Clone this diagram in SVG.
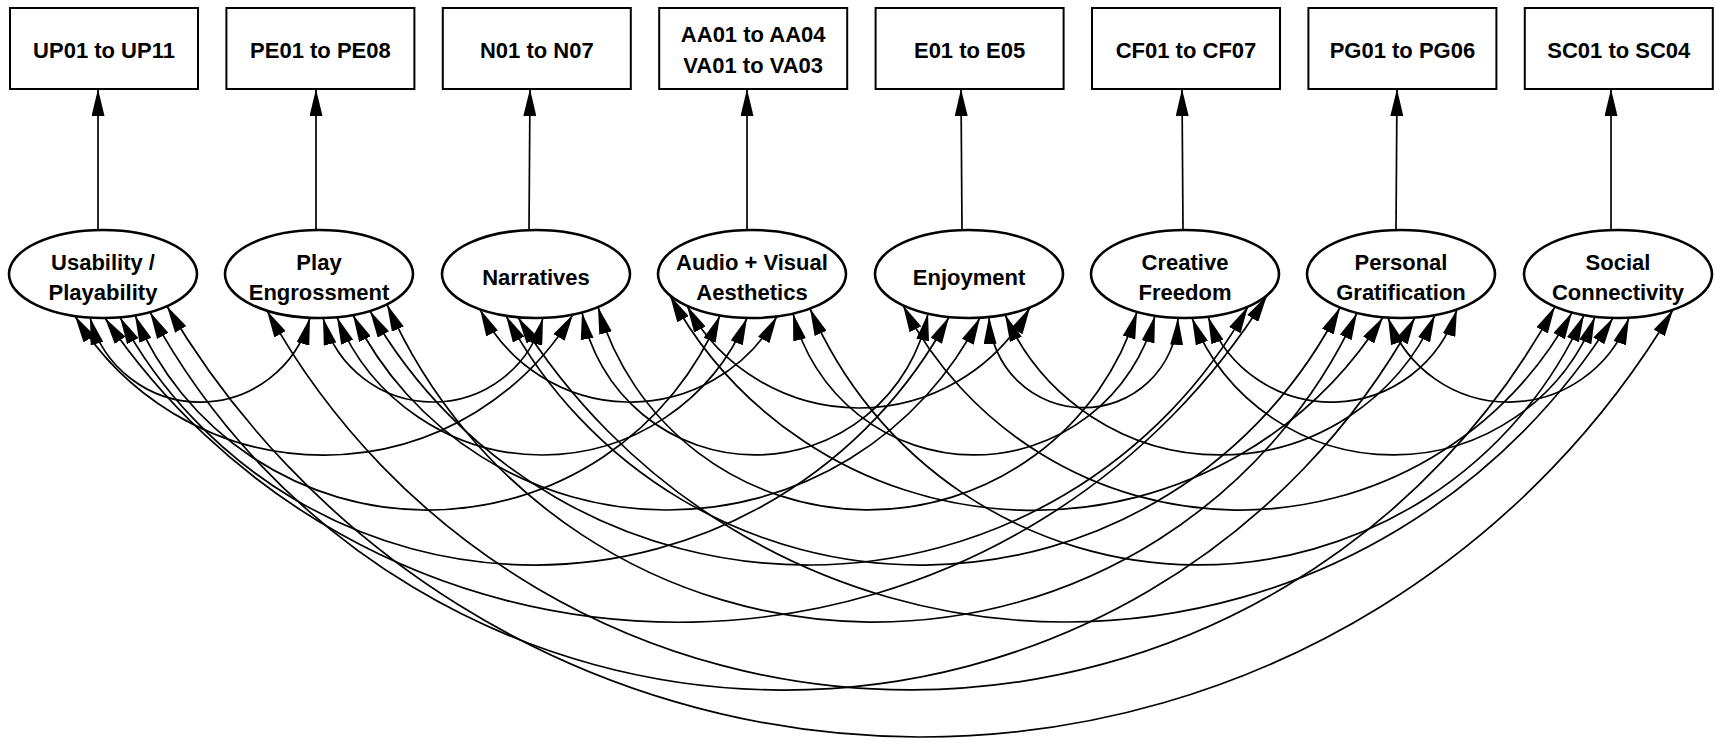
<svg xmlns="http://www.w3.org/2000/svg" width="1715" height="742" viewBox="0 0 1715 742">
<style>
.box{fill:#fff;stroke:#000;stroke-width:2}
.ell{fill:#fff;stroke:#000;stroke-width:2.6}
.t{font-family:"Liberation Sans",Arial,sans-serif;font-weight:bold;font-size:22px;fill:#000;text-anchor:middle}
.c{fill:none;stroke:#000;stroke-width:1.7;marker-start:url(#ah);marker-end:url(#ah)}
.v{fill:none;stroke:#000;stroke-width:1.7;marker-end:url(#ah)}
</style>
<defs>
<marker id="ah" viewBox="0 0 27 13" refX="27" refY="6.5" markerWidth="27" markerHeight="13" markerUnits="userSpaceOnUse" orient="auto-start-reverse">
<path d="M0,0 L27,6.5 L0,13 z" fill="#000"/>
</marker>
</defs>
<rect width="1715" height="742" fill="#fff"/>
<g id="connectors">
<path class="v" d="M98 230 L98 89"/>
<path class="v" d="M316 230 L316 89"/>
<path class="v" d="M529 230 L530 89"/>
<path class="v" d="M747 230 L747 89"/>
<path class="v" d="M962 230 L961 89"/>
<path class="v" d="M1183 230 L1182 89"/>
<path class="v" d="M1396 230 L1397 89"/>
<path class="v" d="M1611 230 L1611 89"/>
<path class="c" d="M90 317.6 A113.9 113.9 0 0 0 310 317.8"/>
<path class="c" d="M323 318 A114 114 0 0 0 543 317.9"/>
<path class="c" d="M480 309.3 A168.3 168.3 0 0 0 777 316.4"/>
<path class="c" d="M687 305.8 A195.8 195.8 0 0 0 1030 307.5"/>
<path class="c" d="M989 317 A94.6 94.6 0 0 0 1178 317.9"/>
<path class="c" d="M1208 316.7 A131.6 131.6 0 0 0 1457 309.3"/>
<path class="c" d="M1388 317.6 A128.2 128.2 0 0 0 1629 317.7"/>
<path class="c" d="M75 316 A291.6 291.6 0 0 0 573 314.4"/>
<path class="c" d="M337 317.2 A221.6 221.6 0 0 0 747 317.9"/>
<path class="c" d="M582 312.4 A176.4 176.4 0 0 0 928 313.6"/>
<path class="c" d="M793 313.6 A186.9 186.9 0 0 0 1155 315.7"/>
<path class="c" d="M1005 314.6 A235 235 0 0 0 1435 315"/>
<path class="c" d="M1192 317.9 A216.3 216.3 0 0 0 1595 316.7"/>
<path class="c" d="M135 315.4 A317.1 317.1 0 0 0 720 315.4"/>
<path class="c" d="M353 315 A350.6 350.6 0 0 0 980 317.7"/>
<path class="c" d="M598 307.1 A281.4 281.4 0 0 0 1137 311.8"/>
<path class="c" d="M670 295.5 A413.9 413.9 0 0 0 1383 317.2"/>
<path class="c" d="M903 305.3 A378.7 378.7 0 0 0 1572 312.4"/>
<path class="c" d="M120 317.3 A470.5 470.5 0 0 0 949 317"/>
<path class="c" d="M370 311 A504.2 504.2 0 0 0 1248 306.6"/>
<path class="c" d="M506 315.7 A469.8 469.8 0 0 0 1340 307.5"/>
<path class="c" d="M810 308.6 A422.4 422.4 0 0 0 1584 315"/>
<path class="c" d="M105 318 A693 693 0 0 0 1267 295.5"/>
<path class="c" d="M387 304.4 A532 532 0 0 0 1357 312.9"/>
<path class="c" d="M518 317.2 A644.5 644.5 0 0 0 1613 317.9"/>
<path class="c" d="M150 312.1 A720.7 720.7 0 0 0 1415 317.5"/>
<path class="c" d="M267 310.7 A734.5 734.5 0 0 0 1555 306.6"/>
<path class="c" d="M167 306.2 A875.3 875.3 0 0 0 1673 309.7"/>
</g>
<g id="box-up"><rect class="box" x="10" y="8" width="188" height="81"/><text class="t" x="104" y="58">UP01 to UP11</text></g>
<g id="box-pe"><rect class="box" x="226.4" y="8" width="188" height="81"/><text class="t" x="320.4" y="58">PE01 to PE08</text></g>
<g id="box-n"><rect class="box" x="442.8" y="8" width="188" height="81"/><text class="t" x="536.8" y="58">N01 to N07</text></g>
<g id="box-aa"><rect class="box" x="659.2" y="8" width="188" height="81"/><text class="t" x="753.2" y="41.5">AA01 to AA04</text><text class="t" x="753.2" y="72.5">VA01 to VA03</text></g>
<g id="box-e"><rect class="box" x="875.6" y="8" width="188" height="81"/><text class="t" x="969.6" y="58">E01 to E05</text></g>
<g id="box-cf"><rect class="box" x="1092" y="8" width="188" height="81"/><text class="t" x="1186" y="58">CF01 to CF07</text></g>
<g id="box-pg"><rect class="box" x="1308.4" y="8" width="188" height="81"/><text class="t" x="1402.4" y="58">PG01 to PG06</text></g>
<g id="box-sc"><rect class="box" x="1524.8" y="8" width="188" height="81"/><text class="t" x="1618.8" y="58">SC01 to SC04</text></g>
<g id="f-up"><ellipse class="ell" cx="103" cy="274" rx="94" ry="44"/><text class="t" x="103" y="269.5">Usability /</text><text class="t" x="103" y="300">Playability</text></g>
<g id="f-pe"><ellipse class="ell" cx="319" cy="274" rx="94" ry="44"/><text class="t" x="319" y="269.5">Play</text><text class="t" x="319" y="300">Engrossment</text></g>
<g id="f-n"><ellipse class="ell" cx="536" cy="274" rx="94" ry="44"/><text class="t" x="536" y="284.5">Narratives</text></g>
<g id="f-aa"><ellipse class="ell" cx="752" cy="274" rx="94" ry="44"/><text class="t" x="752" y="269.5">Audio + Visual</text><text class="t" x="752" y="300">Aesthetics</text></g>
<g id="f-e"><ellipse class="ell" cx="969" cy="274" rx="94" ry="44"/><text class="t" x="969" y="284.5">Enjoyment</text></g>
<g id="f-cf"><ellipse class="ell" cx="1185" cy="274" rx="94" ry="44"/><text class="t" x="1185" y="269.5">Creative</text><text class="t" x="1185" y="300">Freedom</text></g>
<g id="f-pg"><ellipse class="ell" cx="1401" cy="274" rx="94" ry="44"/><text class="t" x="1401" y="269.5">Personal</text><text class="t" x="1401" y="300">Gratification</text></g>
<g id="f-sc"><ellipse class="ell" cx="1618" cy="274" rx="94" ry="44"/><text class="t" x="1618" y="269.5">Social</text><text class="t" x="1618" y="300">Connectivity</text></g>
</svg>
